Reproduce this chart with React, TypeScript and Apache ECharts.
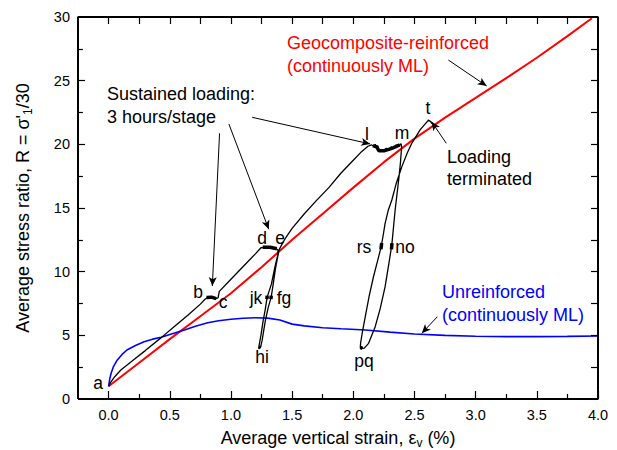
import React, { useEffect, useRef } from "react";
import * as echarts from "echarts";

const FONT = '"Liberation Sans", Arial, Helvetica, sans-serif';

// ---- axes ----
const X_MIN = -0.25;
const X_MAX = 4;
const Y_MIN = 0;
const Y_MAX = 30;
const xLabelValues = [0, 0.5, 1, 1.5, 2, 2.5, 3, 3.5, 4];
const xMinorTicks = [0.25, 0.75, 1.25, 1.75, 2.25, 2.75, 3.25, 3.75];
const xTopTicks = [0, 0.25, 0.5, 0.75, 1, 1.25, 1.5, 1.75, 2, 2.25, 2.5, 2.75, 3, 3.25, 3.5, 3.75];
const yMajorTicks = [5, 10, 15, 20, 25];
const yMinorTicks = [2.5, 7.5, 12.5, 17.5, 22.5, 27.5];
const yRightTicks = [2.5, 5, 7.5, 10, 12.5, 15, 17.5, 20, 22.5, 25, 27.5];
// tick lengths in data units
const X_TICK_MAJOR = 0.63;
const X_TICK_MINOR = 0.4;
const X_TICK_TOP = 0.55;
const Y_TICK_MAJOR = 0.057;
const Y_TICK_MINOR = 0.04;

// ---- data ----
const geocomposite: number[][] = [
  [0, 1.0], [0.25, 2.85], [0.5, 4.7], [0.75, 6.5], [1.0, 8.3], [1.25, 10.35],
  [1.5, 12.5], [1.75, 14.55], [2.0, 16.6], [2.25, 18.6], [2.5, 20.45],
  [2.75, 22.1], [3.0, 23.65], [3.25, 25.2], [3.5, 26.8], [3.75, 28.5], [3.95, 29.9],
];

const unreinforced: number[][] = [
  [0, 1.0], [0.01, 1.6], [0.02, 2.0], [0.04, 2.55], [0.07, 3.05], [0.11, 3.5],
  [0.15, 3.85], [0.22, 4.2], [0.29, 4.5], [0.36, 4.7], [0.43, 4.85], [0.52, 5.12],
  [0.62, 5.42], [0.71, 5.72], [0.81, 5.99], [0.9, 6.15], [1.0, 6.26], [1.1, 6.34],
  [1.2, 6.38], [1.3, 6.35], [1.4, 6.2], [1.5, 5.88], [1.6, 5.74], [1.75, 5.6],
  [1.9, 5.52], [2.1, 5.42], [2.3, 5.25], [2.5, 5.1], [2.75, 5.0], [3.0, 4.93],
  [3.25, 4.9], [3.5, 4.9], [3.75, 4.92], [4.0, 4.95],
];

const cyclic: number[][] = [
  [0, 1.0], [0.02, 1.35], [0.05, 1.75], [0.1, 2.28], [0.2, 3.05], [0.3, 3.8],
  [0.43, 4.82], [0.55, 5.8], [0.65, 6.6], [0.75, 7.45], [0.79, 7.85], [0.81, 7.97],
  [0.84, 8.0], [0.88, 7.88], [0.895, 7.95], [0.905, 8.45], [1.0, 9.4], [1.1, 10.4],
  [1.2, 11.4], [1.245, 11.88], [1.3, 11.92], [1.36, 11.85], [1.385, 11.7],
  [1.38, 11.2], [1.36, 10.4], [1.33, 9.0], [1.296, 8.0], [1.28, 7.0], [1.264, 6.2],
  [1.245, 5.0], [1.228, 4.1], [1.24, 4.0], [1.255, 4.6], [1.27, 5.5], [1.282, 6.2],
  [1.305, 7.2], [1.329, 8.0], [1.345, 9.0], [1.365, 10.3], [1.385, 11.3], [1.395, 11.75],
  [1.42, 12.2], [1.45, 12.7], [1.5, 13.4], [1.6, 14.55], [1.7, 15.6], [1.8, 16.6],
  [1.9, 17.75], [2.0, 18.75], [2.06, 19.35], [2.12, 19.85], [2.15, 19.95],
  [2.17, 19.85], [2.18, 20.0], [2.19, 19.75], [2.2, 19.9], [2.21, 19.45],
  [2.23, 19.6], [2.25, 19.45], [2.27, 19.7], [2.29, 19.55], [2.31, 19.8],
  [2.33, 19.7], [2.35, 19.95], [2.37, 19.85], [2.39, 20.05], [2.395, 19.8],
  [2.385, 18.5], [2.372, 17.3], [2.342, 14.84], [2.315, 12.1], [2.285, 10.3],
  [2.26, 8.82], [2.22, 7.1], [2.179, 5.68], [2.125, 4.37], [2.09, 4.0], [2.075, 3.98],
  [2.057, 4.05], [2.06, 4.4], [2.075, 5.3], [2.098, 6.46], [2.13, 8.1], [2.165, 9.6],
  [2.2, 10.9], [2.228, 11.96], [2.245, 12.9], [2.26, 13.8], [2.285, 14.8],
  [2.315, 15.63], [2.35, 16.9], [2.397, 18.25], [2.44, 19.3], [2.478, 20.08],
  [2.546, 21.13], [2.614, 21.9], [2.63, 21.8], [2.645, 21.6],
];

// sustained-loading stages (3 hours/stage)
const holdBC = [[0.8, 7.98], [0.84, 8.0], [0.88, 7.88]];
const holdDE = [[1.26, 11.92], [1.32, 11.92], [1.375, 11.8]];
const holdFG = [[1.329, 8.12], [1.327, 7.85]];
const holdJK = [[1.296, 8.12], [1.294, 7.85]];
const holdHI = [[1.228, 4.1], [1.24, 4.0]];
const holdLM = [[2.16, 19.9], [2.19, 19.8], [2.21, 19.5], [2.25, 19.5], [2.29, 19.6], [2.33, 19.75], [2.38, 19.95]];
const holdNO = [[2.316, 12.25], [2.312, 11.75]];
const holdPQ = [[2.057, 4.05], [2.075, 3.98]];
const holdRS = [[2.232, 12.25], [2.226, 11.75]];
const holds = [holdBC, holdDE, holdFG, holdJK, holdHI, holdLM, holdNO, holdPQ, holdRS];

// annotation arrows: [fromX, fromY, toX, toY] in data units
const arrows = [
  [0.907, 20.87, 0.848, 8.87],
  [0.983, 21.6, 1.309, 13.33],
  [1.174, 22.12, 2.138, 20.03],
  [2.777, 26.62, 3.09, 24.58],
  [2.76, 20.08, 2.64, 21.78],
  [2.687, 6.46, 2.56, 5.16],
];

// ---- layout of annotation texts (pixels) ----
const blockTexts = [
  { text: "Sustained loading:", x: 107, y: 94, color: "#000" },
  { text: "3 hours/stage", x: 107, y: 117, color: "#000" },
  { text: "Geocomposite-reinforced", x: 287, y: 43, color: "#ff0000" },
  { text: "(continuously ML)", x: 287, y: 66, color: "#ff0000" },
  { text: "Loading", x: 447, y: 157, color: "#000" },
  { text: "terminated", x: 447, y: 179, color: "#000" },
  { text: "Unreinforced", x: 442, y: 292, color: "#0000ff" },
  { text: "(continuously ML)", x: 442, y: 315, color: "#0000ff" },
];
const pointTexts = [
  { text: "a", x: 98, y: 383 },
  { text: "b", x: 198, y: 292 },
  { text: "c", x: 223, y: 302 },
  { text: "d", x: 262, y: 238 },
  { text: "e", x: 280, y: 238 },
  { text: "jk", x: 256, y: 298 },
  { text: "fg", x: 284, y: 298 },
  { text: "hi", x: 262, y: 357 },
  { text: "l", x: 367, y: 134 },
  { text: "m", x: 402, y: 133 },
  { text: "t", x: 428, y: 108 },
  { text: "rs", x: 364, y: 247 },
  { text: "no", x: 405, y: 247 },
  { text: "pq", x: 364, y: 361 },
];

const frame = [[X_MIN, Y_MIN], [X_MAX, Y_MIN], [X_MAX, Y_MAX], [X_MIN, Y_MAX], [X_MIN, Y_MIN]];

function tickSegments() {
  const seg = (x1: number, y1: number, x2: number, y2: number) => [{ coord: [x1, y1] }, { coord: [x2, y2] }];
  const out: any[] = [];
  xLabelValues.forEach((v) => out.push(seg(v, Y_MIN, v, Y_MIN + X_TICK_MAJOR)));
  xMinorTicks.forEach((v) => out.push(seg(v, Y_MIN, v, Y_MIN + X_TICK_MINOR)));
  xTopTicks.forEach((v) => out.push(seg(v, Y_MAX, v, Y_MAX - X_TICK_TOP)));
  yMajorTicks.forEach((v) => out.push(seg(X_MIN, v, X_MIN + Y_TICK_MAJOR, v)));
  yMinorTicks.forEach((v) => out.push(seg(X_MIN, v, X_MIN + Y_TICK_MINOR, v)));
  yRightTicks.forEach((v) => out.push(seg(X_MAX, v, X_MAX - Y_TICK_MAJOR, v)));
  return out;
}

export default function App() {
  const ref = useRef<HTMLDivElement>(null);
  useEffect(() => {
    document.body.style.margin = "0";
    if (!ref.current) return;
    const chart = echarts.init(ref.current, null, { renderer: "svg" });
    const holdSeries = holds.map((h) => ({
      type: "line",
      data: h,
      showSymbol: false,
      silent: true,
      lineStyle: { color: "#000", width: 3.5 },
      z: 5,
    }));
    const graphic: any[] = [];
    blockTexts.forEach((t) =>
      graphic.push({
        type: "text",
        x: t.x,
        y: t.y,
        silent: true,
        z: 100,
        style: {
          text: t.text,
          fill: t.color,
          fontSize: 18,
          fontFamily: FONT,
          align: "left",
          verticalAlign: "middle",
        },
      })
    );
    pointTexts.forEach((t) =>
      graphic.push({
        type: "text",
        x: t.x,
        y: t.y,
        silent: true,
        z: 100,
        style: {
          text: t.text,
          fill: "#000",
          fontSize: 17.5,
          fontFamily: FONT,
          align: "center",
          verticalAlign: "middle",
        },
      })
    );
    const richName = () => ({
      a: { fontSize: 18, fontFamily: FONT, color: "#000", lineHeight: 22, verticalAlign: "middle" },
      s: { fontSize: 12, fontFamily: FONT, color: "#000", lineHeight: 12, verticalAlign: "bottom" },
    });
    chart.setOption({
      animation: false,
      backgroundColor: "#fff",
      grid: { left: 78, right: 19, top: 17, bottom: 51, outerBoundsMode: "none" },
      xAxis: {
        type: "value",
        position: "bottom",
        min: X_MIN,
        max: X_MAX,
        interval: 0.25,
        axisLine: { show: false, onZero: false },
        axisTick: { show: false },
        axisLabel: {
          show: true,
          customValues: xLabelValues,
          formatter: (v: number) => v.toFixed(1),
          fontSize: 14.5,
          fontFamily: FONT,
          color: "#000",
          margin: 8,
        },
        splitLine: { show: false },
        name: "{a|Average vertical strain, ε}{s|v}{a| (%)}",
        nameLocation: "middle",
        nameGap: 28,
        nameTextStyle: { fontSize: 18, fontFamily: FONT, color: "#000", rich: richName() },
      },
      yAxis: {
        type: "value",
        position: "left",
        min: Y_MIN,
        max: Y_MAX,
        interval: 5,
        axisLine: { show: false, onZero: false },
        axisTick: { show: false },
        axisLabel: { fontSize: 14.5, fontFamily: FONT, color: "#000", margin: 8 },
        splitLine: { show: false },
        name: "{a|Average stress ratio, R = σ'}{s|1}{a|/30}",
        nameLocation: "middle",
        nameGap: 44,
        nameTextStyle: { fontSize: 18, fontFamily: FONT, color: "#000", rich: richName() },
      },
      series: [
        {
          type: "line",
          data: geocomposite,
          showSymbol: false,
          silent: true,
          lineStyle: { color: "#ff0000", width: 2 },
          z: 2,
        },
        {
          type: "line",
          data: unreinforced,
          showSymbol: false,
          silent: true,
          lineStyle: { color: "#0000ff", width: 1.6 },
          z: 3,
        },
        {
          type: "line",
          data: cyclic,
          showSymbol: false,
          silent: true,
          lineStyle: { color: "#000", width: 1.3 },
          z: 4,
          markLine: {
            silent: true,
            symbol: ["none", "arrow"],
            symbolSize: [6, 9],
            label: { show: false },
            lineStyle: { color: "#000", width: 1, type: "solid" },
            emphasis: { disabled: true },
            data: arrows.map((a) => [{ coord: [a[0], a[1]] }, { coord: [a[2], a[3]] }]),
          },
        },
        ...holdSeries,
        {
          type: "line",
          data: frame,
          showSymbol: false,
          silent: true,
          clip: false,
          lineStyle: { color: "#000", width: 2 },
          z: 10,
          markLine: {
            silent: true,
            symbol: ["none", "none"],
            label: { show: false },
            lineStyle: { color: "#000", width: 1.2, type: "solid" },
            emphasis: { disabled: true },
            data: tickSegments(),
          },
        },
      ],
      graphic,
    });
    return () => chart.dispose();
  }, []);
  return <div ref={ref} style={{ width: 617, height: 450 }} />;
}
